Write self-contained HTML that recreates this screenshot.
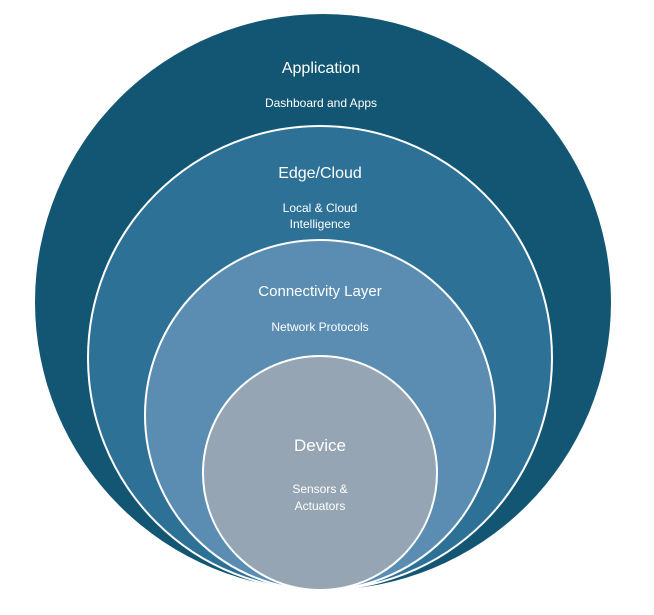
<!DOCTYPE html>
<html><head><style>
html,body{margin:0;padding:0;background:#fff;}
svg text{font-family:"Liberation Sans",sans-serif;fill:#fff;text-anchor:middle;}
</style></head><body>
<svg width="654" height="610" viewBox="0 0 654 610" xmlns="http://www.w3.org/2000/svg">
<circle cx="323" cy="302" r="288" fill="#135673"/>
<circle cx="320" cy="358" r="232" fill="#2e7197" stroke="#fff" stroke-width="2"/>
<circle cx="320" cy="415" r="175" fill="#5b8db3" stroke="#fff" stroke-width="2"/>
<circle cx="320" cy="473" r="117" fill="#95a5b3" stroke="#fff" stroke-width="2"/>
<text x="321" y="73" font-size="16">Application</text>
<text x="321" y="107" font-size="12">Dashboard and Apps</text>
<text x="320" y="178" font-size="16">Edge/Cloud</text>
<text x="320" y="212" font-size="12">Local &amp; Cloud</text>
<text x="320" y="228" font-size="12">Intelligence</text>
<text x="320" y="296" font-size="15">Connectivity Layer</text>
<text x="320" y="331" font-size="12">Network Protocols</text>
<text x="320" y="451" font-size="17">Device</text>
<text x="320" y="493" font-size="12">Sensors &amp;</text>
<text x="320" y="510" font-size="12">Actuators</text>
</svg>
</body></html>
